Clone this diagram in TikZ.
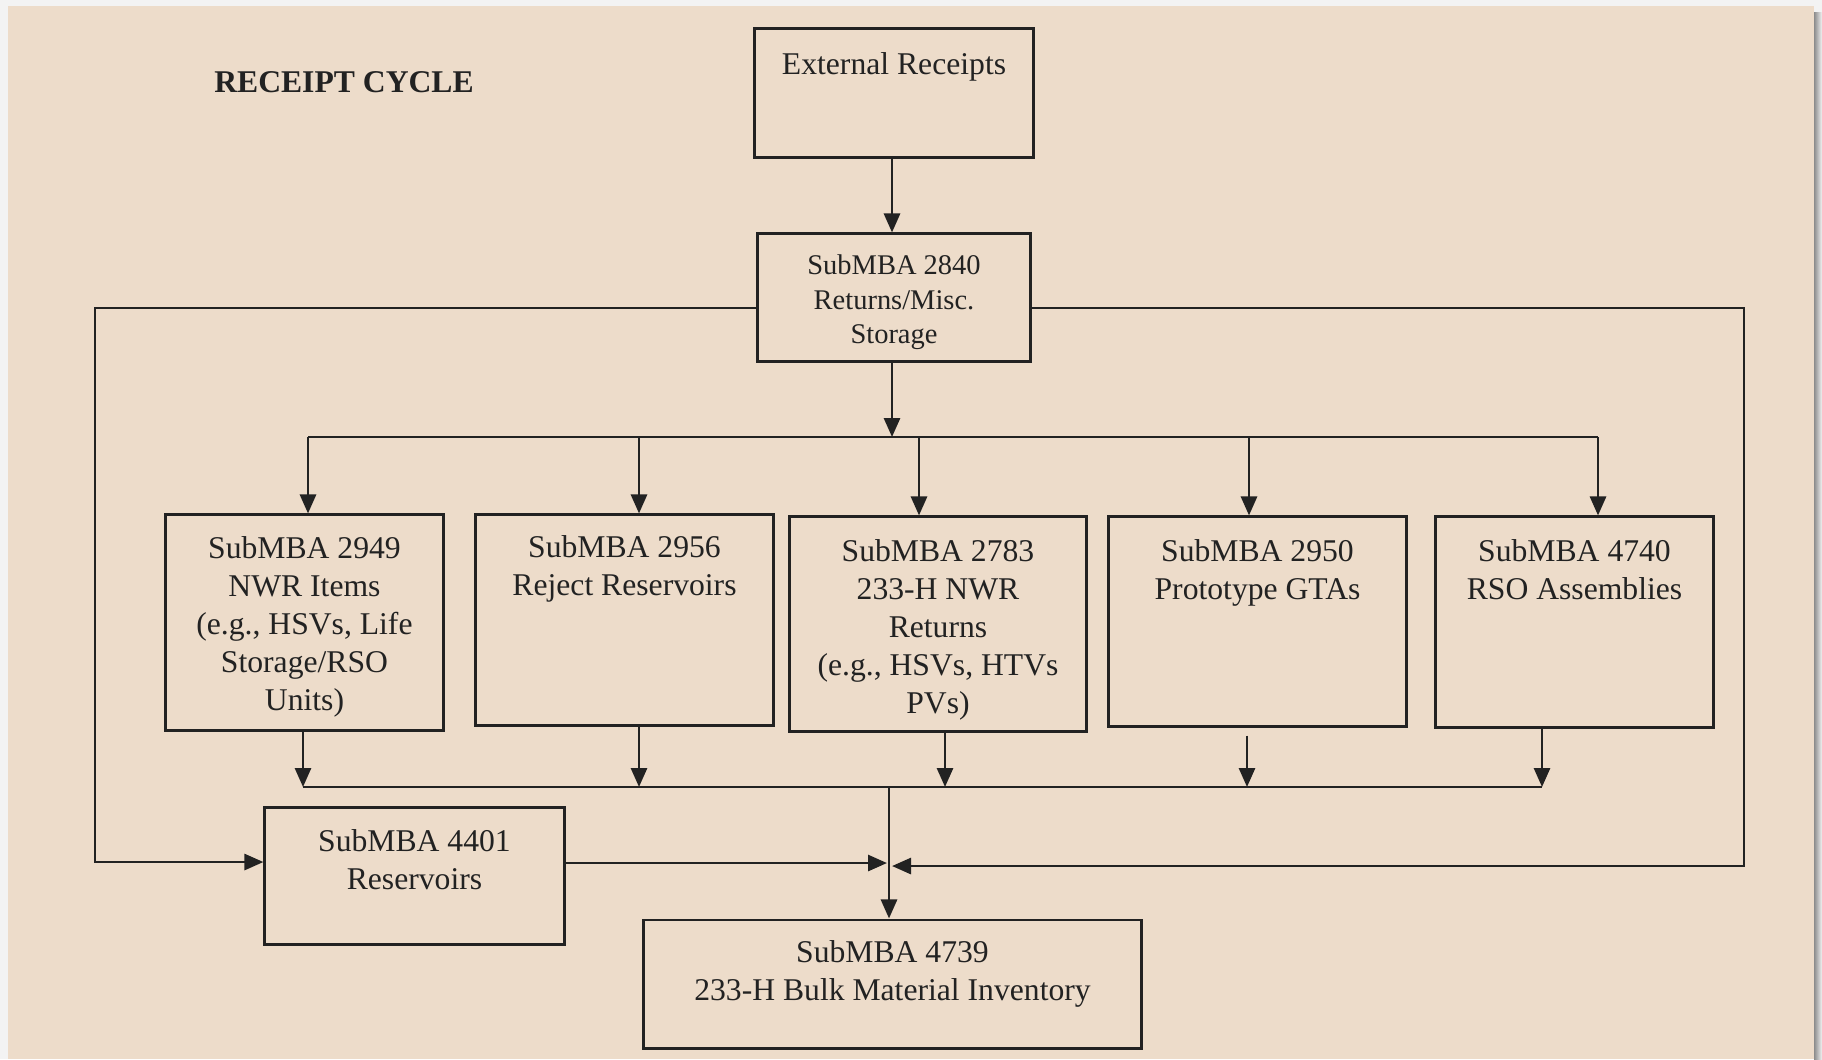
\documentclass[tikz,border=0pt]{standalone}
\usepackage{fontspec}
\setmainfont{Liberation Serif}
\usetikzlibrary{arrows.meta,positioning}
\definecolor{paper}{HTML}{EDDCCA}
\definecolor{ink}{HTML}{222222}
\definecolor{frame}{HTML}{F3F3F3}
\begin{document}
\begin{tikzpicture}[x=0.01cm,y=-0.01cm,
  box/.style={draw=ink, line width=0.85pt, rectangle, inner sep=0pt},
  lbl/.style={align=center, inner sep=0pt, text=ink,
              font=\fontsize{9}{10.8}\selectfont},
  wire/.style={draw=ink, line width=0.8pt},
  flow/.style={wire, -{Triangle[length=1.9mm,width=1.6mm]}},
]
% page and backdrop
\useasboundingbox (0,0) rectangle (1822,1059);
\fill[frame] (0,0) rectangle (1822,1059);
\shade[left color=black!45, right color=frame] (1814,12) rectangle (1822,1059);
\fill[paper] (8,6) rectangle (1814,1059);

% title
\node[lbl, font=\fontsize{9}{10.8}\selectfont\bfseries] (title) at (344,82) {RECEIPT CYCLE};

% boxes
\node[box, minimum width=2.78cm, minimum height=1.28cm] (ext)   at (894,93) {};
\node[box, minimum width=2.73cm, minimum height=1.27cm] (s2840) at (894,297.5) {};
\node[box, minimum width=2.77cm, minimum height=2.15cm] (b2949) at (304.5,622.5) {};
\node[box, minimum width=2.97cm, minimum height=2.10cm] (b2956) at (624.5,620) {};
\node[box, minimum width=2.96cm, minimum height=2.14cm] (b2783) at (938,624) {};
\node[box, minimum width=2.97cm, minimum height=2.09cm] (b2950) at (1257.5,621.5) {};
\node[box, minimum width=2.77cm, minimum height=2.10cm] (b4740) at (1574.5,622) {};
\node[box, minimum width=2.99cm, minimum height=1.36cm] (b4401) at (414.5,876) {};
\node[box, minimum width=4.97cm, minimum height=1.28cm] (b4739) at (892.5,984) {};

% box texts
\node[lbl, anchor=north, below=0.24cm of ext.north] (t-ext) {External Receipts};
\node[lbl, anchor=north, below=0.22cm of s2840.north, font=\fontsize{8.1}{9.7}\selectfont] (t-2840)
  {SubMBA 2840\\Returns/Misc.\\Storage};
\node[lbl, anchor=north, below=0.22cm of b2949.north] (t-2949)
  {SubMBA 2949\\NWR Items\\(e.g., HSVs, Life\\Storage/RSO\\Units)};
\node[lbl, anchor=north, below=0.21cm of b2956.north] (t-2956)
  {SubMBA 2956\\Reject Reservoirs};
\node[lbl, anchor=north, below=0.23cm of b2783.north] (t-2783)
  {SubMBA 2783\\233-H NWR\\Returns\\(e.g., HSVs, HTVs\\PVs)};
\node[lbl, anchor=north, below=0.23cm of b2950.north] (t-2950)
  {SubMBA 2950\\Prototype GTAs};
\node[lbl, anchor=north, below=0.23cm of b4740.north] (t-4740)
  {SubMBA 4740\\RSO Assemblies};
\node[lbl, anchor=north, below=0.22cm of b4401.north, font=\fontsize{9}{11}\selectfont] (t-4401)
  {SubMBA 4401\\Reservoirs};
\node[lbl, anchor=north, below=0.21cm of b4739.north, font=\fontsize{9}{11}\selectfont] (t-4739)
  {SubMBA 4739\\233-H Bulk Material Inventory};

% distribution bus below SubMBA 2840
\coordinate (top) at (892,437);
\coordinate (d1) at (308,437);
\coordinate (d2) at (639,437);
\coordinate (d3) at (919,437);
\coordinate (d4) at (1249,437);
\coordinate (d5) at (1598,437);
% collection bus above SubMBA 4739
\coordinate (u1) at (303,787);
\coordinate (u2) at (639,787);
\coordinate (u3) at (945,787);
\coordinate (u4) at (1247,787);
\coordinate (u5) at (1542,787);
\coordinate (join) at (889,787);
\coordinate (jl) at (887,863);
\coordinate (jr) at (892,866);

\draw[flow] (ext.south -| top) -- (s2840.north -| top);
\draw[flow] (s2840.south -| top) -- (top);
\draw[wire] (d1) -- (d5);
\draw[flow] (d1) -- (d1 |- b2949.north);
\draw[flow] (d2) -- (d2 |- b2956.north);
\draw[flow] (d3) -- (d3 |- b2783.north);
\draw[flow] (d4) -- (d4 |- b2950.north);
\draw[flow] (d5) -- (d5 |- b4740.north);

\draw[flow] (u1 |- b2949.south) -- (u1);
\draw[flow] (u2 |- b2956.south) -- (u2);
\draw[flow] (u3 |- b2783.south) -- (u3);
\draw[flow, shorten <=0.08cm] (u4 |- b2950.south) -- (u4);
\draw[flow] (u5 |- b4740.south) -- (u5);
\draw[wire] (u1) -- (u5);
\draw[flow] (join) -- (join |- b4739.north);

% bypass loops around the middle row
\draw[flow] (s2840.west |- 0,308) -| (95,862) -- (b4401.west |- 0,862);
\draw[flow] (b4401.east |- jl) -- (jl);
\draw[flow] (s2840.east |- 0,308) -| (1744,866) -- (jr);
\end{tikzpicture}
\end{document}
